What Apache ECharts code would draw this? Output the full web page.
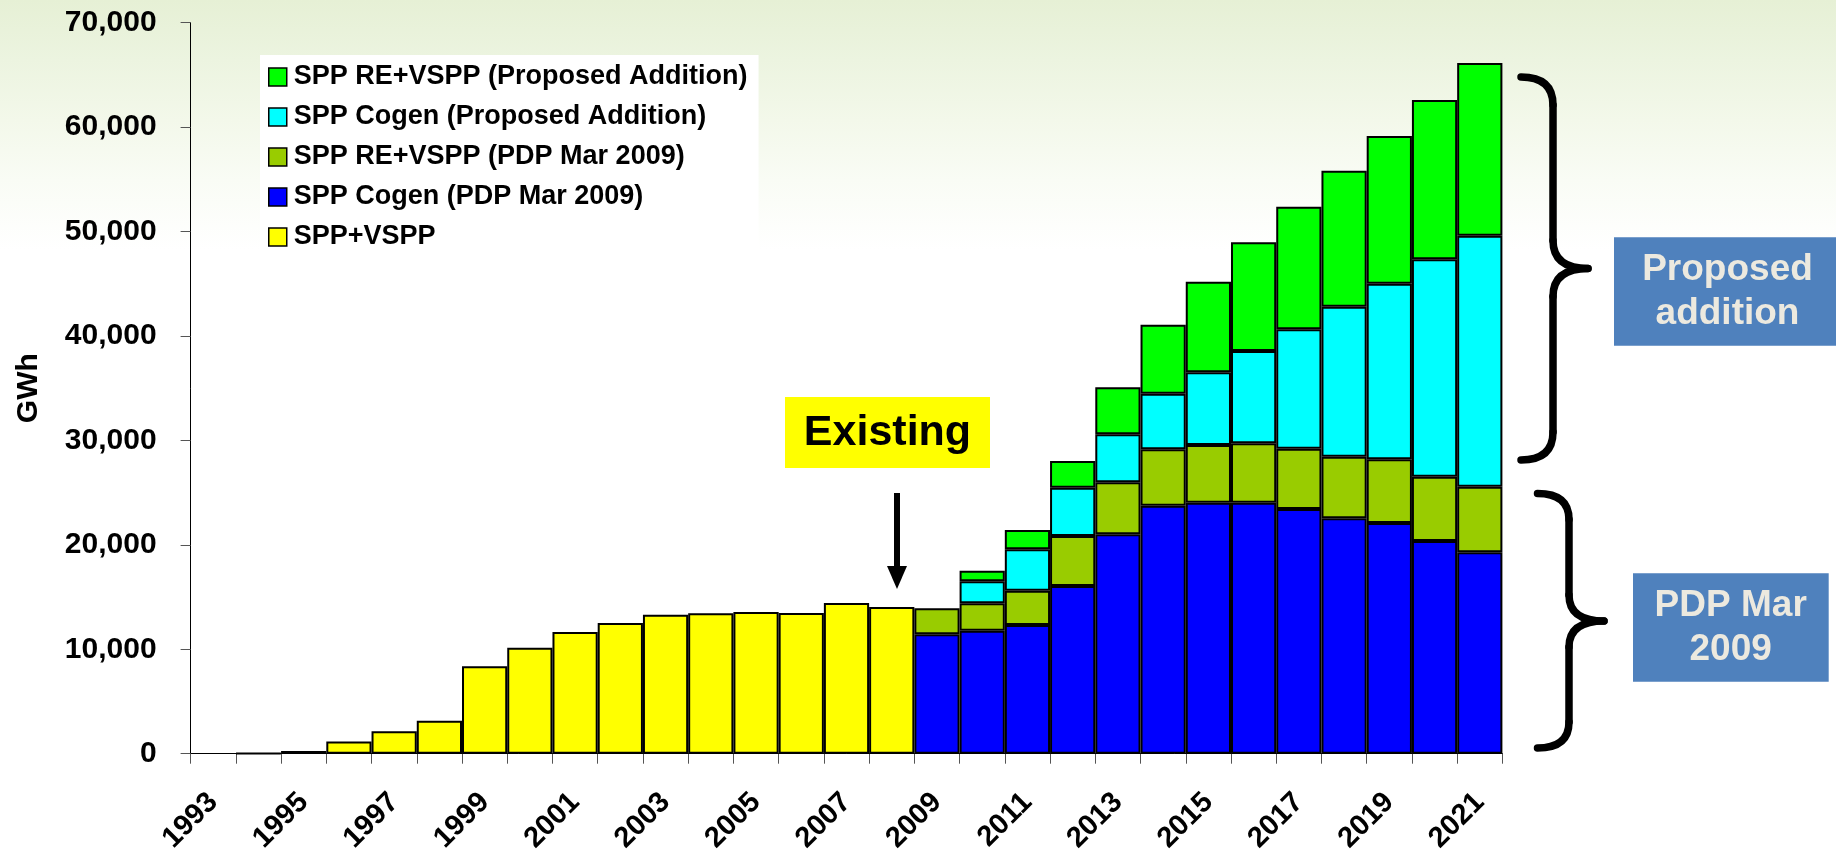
<!DOCTYPE html>
<html>
<head>
<meta charset="utf-8">
<script src="https://cdn.jsdelivr.net/npm/echarts@6/dist/echarts.min.js"></script>
<style>
html,body{margin:0;padding:0;}
body{width:1836px;height:856px;background:linear-gradient(to bottom,#e6f0d5 0px,#ecf4e0 60px,#f3f8ea 120px,#f9fcf5 180px,#ffffff 250px);}
#chart{width:1836px;height:856px;}
</style>
</head>
<body>
<div id="chart"></div>
<script>
// ---------- data ----------
const years = ['1993','1994','1995','1996','1997','1998','1999','2000','2001','2002',
  '2003','2004','2005','2006','2007','2008','2009','2010','2011','2012',
  '2013','2014','2015','2016','2017','2018','2019','2020','2021'];

const seriesNames = [
  'SPP RE+VSPP (Proposed Addition)',
  'SPP Cogen (Proposed Addition)',
  'SPP RE+VSPP (PDP Mar 2009)',
  'SPP Cogen (PDP Mar 2009)',
  'SPP+VSPP'
];

// Existing SPP+VSPP (1993-2008)
const sppVspp = [null, 40, 260, 1180, 2150, 3160, 8370, 10150, 11650, 12520,
  13310, 13450, 13570, 13470, 14430, 14050,
  null, null, null, null, null, null, null, null, null, null, null, null, null];

// SPP Cogen (PDP Mar 2009)
const cogenPdp = [null, null, null, null, null, null, null, null, null, null,
  null, null, null, null, null, null,
  11430, 11780, 12320, 16060, 21010, 23750, 24040, 24040, 23430, 22540, 22100, 20370, 19290];

// SPP RE+VSPP (PDP Mar 2009)
const rePdp = [null, null, null, null, null, null, null, null, null, null,
  null, null, null, null, null, null,
  2490, 2620, 3290, 4790, 4980, 5400, 5520, 5680, 5780, 5900, 6090, 6160, 6280];

// SPP Cogen (Proposed Addition)
const cogenProp = [null, null, null, null, null, null, null, null, null, null,
  null, null, null, null, null, null,
  null, 2120, 3960, 4620, 4600, 5320, 6960, 8840, 11430, 14370, 16810, 20810, 24030];

// SPP RE+VSPP (Proposed Addition)
const reProp = [null, null, null, null, null, null, null, null, null, null,
  null, null, null, null, null, null,
  null, 1000, 1850, 2560, 4500, 6610, 8680, 10410, 11740, 13020, 14150, 15260, 16540];

const yTicks = { min: 0, max: 70000, interval: 10000 };

// ---------- chart ----------
const FONT = '"Liberation Sans", Arial, Helvetica, sans-serif';
const chart = echarts.init(document.getElementById('chart'), null, { renderer: 'canvas' });

function barSeries(name, data, color) {
  return {
    name: name,
    type: 'bar',
    stack: 'gen',
    data: data,
    barCategoryGap: '0%',
    itemStyle: { color: color, borderColor: '#000', borderWidth: 2 },
    emphasis: { disabled: true }
  };
}

// curly brace built from lines and quadratic curves
function brace(x0, y0, s, t, m, y1, r, r2) {
  const st = { stroke: '#000', lineWidth: 7.5, fill: null, lineCap: 'round' };
  const q = (x1, y1, cx, cy, x2, y2) => ({ type: 'bezierCurve', silent: true, z: 100,
    shape: { x1: x1, y1: y1, cpx1: cx, cpy1: cy, x2: x2, y2: y2 }, style: Object.assign({}, st) });
  const l = (x1, y1, x2, y2) => ({ type: 'line', silent: true, z: 100,
    shape: { x1: x1, y1: y1, x2: x2, y2: y2 }, style: Object.assign({}, st) });
  return [
    q(x0, y0, s, y0, s, y0 + r),
    l(s, y0 + r, s, m - r2),
    q(s, m - r2, s, m, t, m),
    q(t, m, s, m, s, m + r2),
    l(s, m + r2, s, y1 - r),
    q(s, y1 - r, s, y1, x0, y1)
  ];
}

const boxText = (text, x, y) => ({
  type: 'text', silent: true, z: 100,
  style: {
    text: text, x: x, y: y,
    align: 'center', verticalAlign: 'middle',
    textAlign: 'center', textVerticalAlign: 'middle',
    fontSize: 37, fontWeight: 'bold', fontFamily: FONT,
    lineHeight: 44, fill: '#ece9df'
  }
});

const option = {
  backgroundColor: 'transparent',
  animation: false,
  textStyle: { fontFamily: FONT },
  grid: { left: 190.6, right: 333.6, top: 22.7, bottom: 102.3, containLabel: false, outerBoundsMode: 'none' },
  legend: {
    orient: 'vertical',
    left: 260, top: 55,
    padding: [7, 11, 10, 8],
    backgroundColor: '#ffffff',
    itemGap: 10,
    itemWidth: 18, itemHeight: 18,
    icon: 'rect',
    data: seriesNames,
    itemStyle: { borderColor: '#000', borderWidth: 1.5 },
    textStyle: { fontSize: 27, fontWeight: 'bold', color: '#000', fontFamily: FONT, lineHeight: 30, padding: [0, 0, 0, 2] },
    selectedMode: false
  },
  xAxis: {
    type: 'category',
    data: years,
    boundaryGap: true,
    axisLine: { show: true, lineStyle: { color: '#000', width: 1 } },
    axisTick: { show: true, interval: 0, length: 10, lineStyle: { color: '#555', width: 1 } },
    axisLabel: { interval: 1, rotate: 45, margin: 44, fontSize: 29, fontWeight: 'bold', color: '#000', fontFamily: FONT }
  },
  yAxis: {
    type: 'value',
    min: yTicks.min, max: yTicks.max, interval: yTicks.interval,
    name: 'GWh', nameLocation: 'middle', nameGap: 147, nameRotate: 90,
    nameTextStyle: { fontSize: 30, fontWeight: 'bold', color: '#000', fontFamily: FONT },
    axisLine: { show: true, lineStyle: { color: '#000', width: 1 } },
    axisTick: { show: true, length: 10, lineStyle: { color: '#555', width: 1 } },
    splitLine: { show: false },
    axisLabel: {
      margin: 34, fontSize: 30, fontWeight: 'bold', color: '#000', fontFamily: FONT,
      formatter: v => v.toLocaleString('en-US')
    }
  },
  series: [
    barSeries(seriesNames[4], sppVspp, '#ffff00'),
    barSeries(seriesNames[3], cogenPdp, '#0000ff'),
    barSeries(seriesNames[2], rePdp, '#99cc00'),
    barSeries(seriesNames[1], cogenProp, '#00ffff'),
    barSeries(seriesNames[0], reProp, '#00ff00')
  ],
  graphic: [
    // "Existing" label
    { type: 'rect', silent: true, z: 100, shape: { x: 785, y: 397, width: 205, height: 71 }, style: { fill: '#ffff00' } },
    { type: 'text', silent: true, z: 101, style: { text: 'Existing', x: 887.5, y: 433, align: 'center', verticalAlign: 'middle', textAlign: 'center', textVerticalAlign: 'middle', fontSize: 43, fontWeight: 'bold', fontFamily: FONT, fill: '#000' } },
    // arrow
    { type: 'line', silent: true, z: 100, shape: { x1: 897, y1: 493, x2: 897, y2: 572 }, style: { stroke: '#000', lineWidth: 6 } },
    { type: 'polygon', silent: true, z: 100, shape: { points: [[887, 566], [907, 566], [897, 589]] }, style: { fill: '#000' } },
    // braces
    ...brace(1521, 77, 1553, 1588, 268.5, 460, 28, 28),
    ...brace(1537.5, 493.5, 1569, 1604, 621, 748, 26, 26),
    // blue boxes
    { type: 'rect', silent: true, z: 99, shape: { x: 1614, y: 237.3, width: 222, height: 108.4 }, style: { fill: '#4f81bd' } },
    boxText('Proposed\naddition', 1727.5, 291.5),
    { type: 'rect', silent: true, z: 99, shape: { x: 1633, y: 573.3, width: 195.7, height: 108.4 }, style: { fill: '#4f81bd' } },
    boxText('PDP Mar\n2009', 1730.7, 628)
  ]
};

chart.setOption(option);
</script>
</body>
</html>
